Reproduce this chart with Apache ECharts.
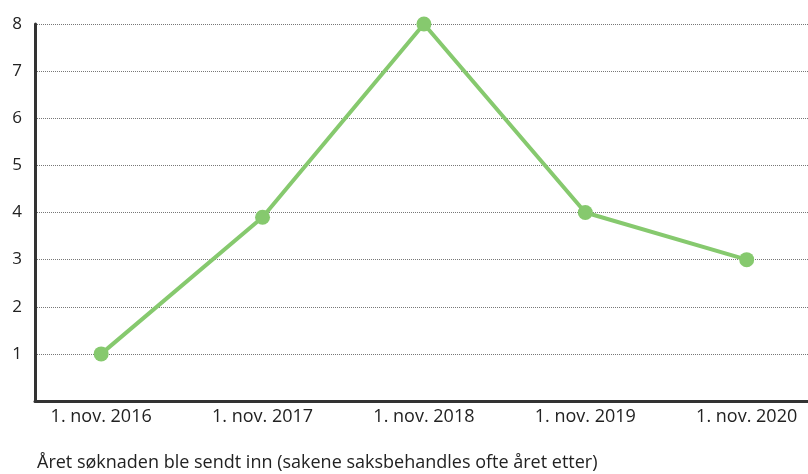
<!DOCTYPE html>
<html>
<head>
<meta charset="utf-8">
<script src="https://cdn.jsdelivr.net/npm/echarts@6/dist/echarts.min.js"></script>
<style>
  html, body { margin: 0; padding: 0; background: #fff; }
  #chart { width: 808px; height: 474px; }
</style>
</head>
<body>
<div id="chart"></div>
<script>
// data
const categories = ["1. nov. 2016", "1. nov. 2017", "1. nov. 2018", "1. nov. 2019", "1. nov. 2020"];
const values = [1, 3.9, 8, 4, 3];
const yTicks = [1, 2, 3, 4, 5, 6, 7, 8];
const axisTitle = "Året søknaden ble sendt inn (sakene saksbehandles ofte året etter)";

const font = "Open Sans";
const textColor = "#222";

const chart = echarts.init(document.getElementById("chart"));

const option = {
  animation: false,
  title: {
    text: axisTitle,
    left: 32,
    top: 449,
    textStyle: { fontFamily: font, fontSize: 18, fontWeight: "normal", color: textColor },
  },
  grid: { left: 35, right: 0, top: 24, bottom: 73 },
  xAxis: {
    type: "value",
    min: -0.41,
    max: 4.38,
    axisLine: { show: true, onZero: false, lineStyle: { color: "#333", width: 3 } },
    axisTick: { show: false },
    splitLine: { show: false },
    axisLabel: {
      customValues: categories.map((c, i) => i),
      formatter: (v) => categories[Math.round(v)],
      fontFamily: font,
      fontSize: 18,
      color: textColor,
      margin: 7,
    },
  },
  yAxis: {
    type: "value",
    min: 0,
    max: 8,
    interval: 1,
    axisLine: { show: true, onZero: false, lineStyle: { color: "#333", width: 3 } },
    axisTick: { show: false },
    axisLabel: {
      formatter: (v) => (yTicks.includes(v) ? String(v) : ""),
      fontFamily: font,
      fontSize: 17,
      color: textColor,
      margin: 13,
    },
    splitLine: { show: true, lineStyle: { color: "#777", width: 1, type: [1, 1] } },
  },
  series: [
    {
      type: "line",
      data: values.map((v, i) => [i, v]),
      symbol: "circle",
      symbolSize: 15,
      lineStyle: { color: "#86c96e", width: 4 },
      itemStyle: { color: "#86c96e" },
    },
  ],
};

chart.setOption(option);
</script>
</body>
</html>
